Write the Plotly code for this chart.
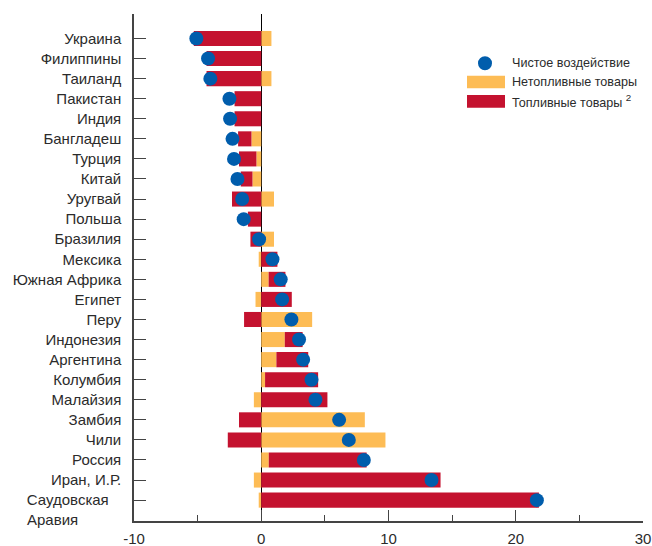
import plotly.graph_objects as go

countries = ["Украина", "Филиппины", "Таиланд", "Пакистан", "Индия", "Бангладеш",
             "Турция", "Китай", "Уругвай", "Польша", "Бразилия", "Мексика",
             "Южная Африка", "Египет", "Перу", "Индонезия", "Аргентина", "Колумбия",
             "Малайзия", "Замбия", "Чили", "Россия", "Иран, И.Р.", "Саудовская Аравия"]
tick_labels = ["Украина", "Филиппины", "Таиланд", "Пакистан", "Индия", "Бангладеш",
               "Турция", "Китай", "Уругвай", "Польша", "Бразилия", "Мексика",
               "Южная Африка", "Египет", "Перу", "Индонезия", "Аргентина", "Колумбия",
               "Малайзия", "Замбия", "Чили", "Россия", "Иран, И.Р.", "Саудовская\u00a0\u00a0\u00a0"]
x_tickvals = [-10, 0, 10, 20, 30]
x_ticktext = ["-10", "0", "10", "20", "30"]
nonfuel = [0.8, 0.0, 0.8, 0.0, 0.0, -0.77, -0.38, -0.69, 1.0, 0.0, 1.0, -0.2,
           0.58, -0.45, 4.0, 1.85, 1.19, 0.3, -0.58, 8.14, 9.76, 0.59, -0.58, -0.2]
fuel = [-5.3, -4.3, -4.3, -2.1, -2.1, -1.05, -1.37, -0.92, -2.3, -1.05, -0.85, 1.27,
        1.32, 2.4, -1.35, 1.4, 2.5, 4.17, 5.2, -1.75, -2.63, 7.69, 14.09, 21.82]
net = [-5.1, -4.18, -4.0, -2.5, -2.45, -2.26, -2.14, -1.87, -1.5, -1.38, -0.17, 0.88,
       1.53, 1.64, 2.37, 2.97, 3.29, 3.95, 4.26, 6.12, 6.88, 8.06, 13.38, 21.66]

legend_names = ["Чистое воздействие", "Нетопливные товары",
                "Топливные товары <span style='font-size:14px'><sup>2</sup></span>"]

RED = "#C4122F"
YELLOW = "#FDBC55"
BLUE = "#005DAC"
TXT = "#2b2b2b"
FONT = "Liberation Sans, Arial, sans-serif"

fig = go.Figure()
fig.add_trace(go.Bar(y=countries, x=nonfuel, orientation="h", marker=dict(color=YELLOW, line=dict(width=0)),
                     name="Нетопливные товары", showlegend=False))
fig.add_trace(go.Bar(y=countries, x=fuel, orientation="h", marker=dict(color=RED, line=dict(width=0)),
                     name="Топливные товары", showlegend=False))
fig.add_trace(go.Scatter(y=countries, x=net, mode="markers",
                         marker=dict(color=BLUE, size=14, line=dict(width=0)),
                         name="Чистое воздействие", showlegend=False))

W, H = 652, 546
L, R, T, B = 134, 9, 14, 25
pw, ph = W - L - R, H - T - B


def px(xp):
    return (xp - L) / pw


def py(yp):
    return (H - B - yp) / ph


shapes = [
    dict(type="circle", xref="paper", yref="paper", x0=px(478), x1=px(492), y0=py(70.3), y1=py(56.3),
         fillcolor=BLUE, line=dict(width=0)),
    dict(type="rect", xref="paper", yref="paper", x0=px(467), x1=px(505), y0=py(88.3), y1=py(75.7),
         fillcolor=YELLOW, line=dict(width=0)),
    dict(type="rect", xref="paper", yref="paper", x0=px(467), x1=px(505), y0=py(107.7), y1=py(95),
         fillcolor=RED, line=dict(width=0)),
]
annotations = []
for name, yc in zip(legend_names, [63.3, 82, 101.3]):
    annotations.append(dict(text=name, xref="paper", yref="paper", x=px(510), y=py(yc),
                            xanchor="left", yanchor="middle", showarrow=False,
                            font=dict(family=FONT, size=12.6, color=TXT)))
annotations.append(dict(text="Аравия", xref="paper", yref="paper", x=px(25), y=py(519.5),
                        xanchor="left", yanchor="middle", showarrow=False,
                        font=dict(family=FONT, size=15, color=TXT)))

fig.update_layout(
    width=W, height=H,
    margin=dict(l=L, r=R, t=T, b=B, pad=0, autoexpand=False),
    barmode="relative", bargap=0.25,
    plot_bgcolor="white", paper_bgcolor="white",
    font=dict(family=FONT, color=TXT),
    shapes=shapes, annotations=annotations,
    showlegend=False,
)
fig.update_xaxes(range=[-10, 30], tickvals=x_tickvals, ticktext=x_ticktext, ticks="inside", ticklen=11,
                 tickcolor="#444", tickwidth=1.3, showline=True, linecolor="#444", linewidth=1.5,
                 showgrid=False, zeroline=True, zerolinecolor="#000", zerolinewidth=1,
                 tickfont=dict(size=15, family=FONT, color=TXT), ticklabelstandoff=3,
                 automargin=False,
                 minor=dict(dtick=5, ticks="inside", ticklen=6, tickcolor="#444", showgrid=False))
fig.update_yaxes(type="category", categoryorder="array", categoryarray=countries,
                 tickvals=countries, ticktext=tick_labels,
                 range=[24.04, -1.22], ticks="inside", ticklen=12, tickcolor="#444", tickwidth=1.3,
                 showline=True, linecolor="#444", linewidth=1.5, showgrid=False, zeroline=False,
                 automargin=False,
                 tickfont=dict(size=15, family=FONT, color=TXT), ticklabelstandoff=8)

fig.write_html("out.html", config={"displayModeBar": False},
               post_script="document.body.style.margin='0px';document.body.style.padding='0px';")
